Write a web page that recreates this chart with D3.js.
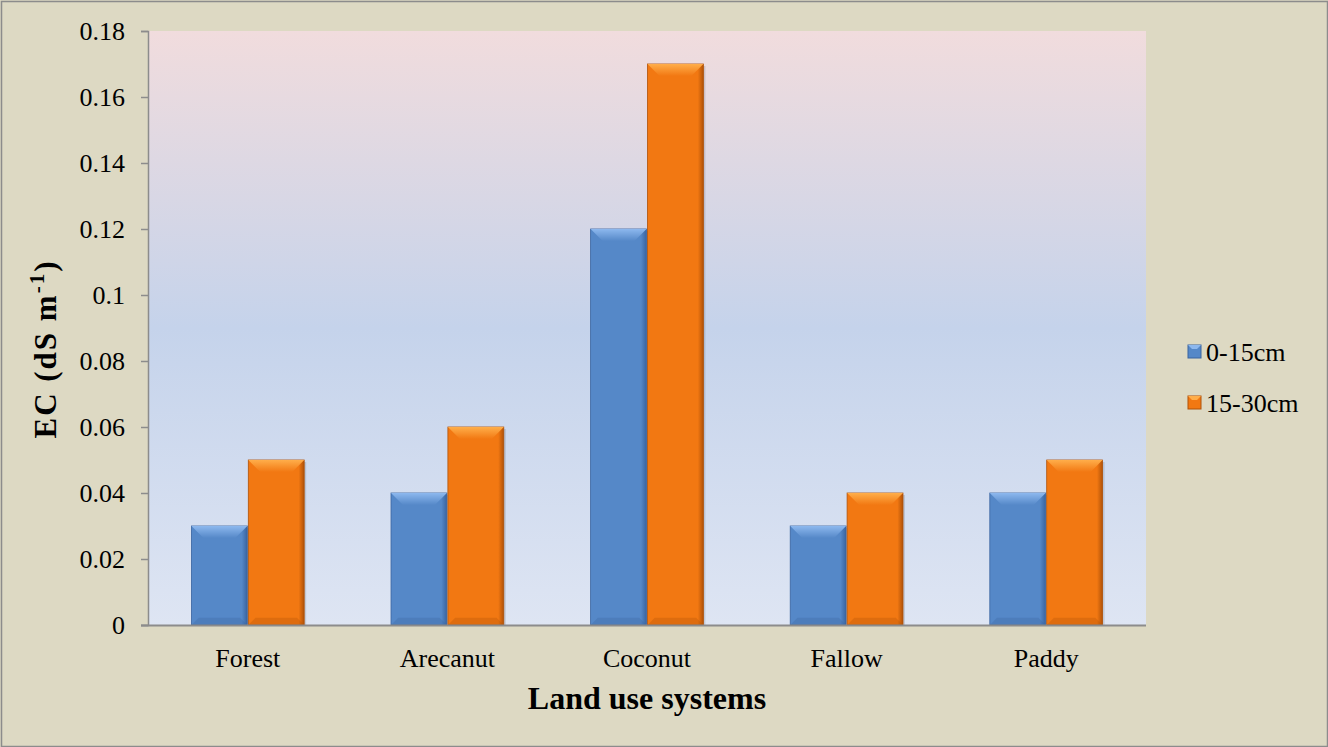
<!DOCTYPE html>
<html><head><meta charset="utf-8">
<script src="https://cdn.jsdelivr.net/npm/d3@7"></script>
<style>html,body{margin:0;padding:0;background:#DDD9C3;}svg{display:block;}</style>
</head><body>
<svg id="c" width="1328" height="747"></svg>
<script>
const categories = ["Forest","Arecanut","Coconut","Fallow","Paddy"];
const seriesNames = ["0-15cm","15-30cm"];
const depth0to15 = [0.03,0.04,0.12,0.03,0.04];
const depth15to30 = [0.05,0.06,0.17,0.04,0.05];
const yTicks = [0,0.02,0.04,0.06,0.08,0.1,0.12,0.14,0.16,0.18];
const yTickLabels = ["0","0.02","0.04","0.06","0.08","0.1","0.12","0.14","0.16","0.18"];

const svg = d3.select("#c");
const W=1328,H=747;
const font = "'Liberation Serif','Times New Roman',serif";
const L=148,R=1146,T=31,B=625;

const defs = svg.append("defs");
const bg = defs.append("linearGradient").attr("id","plotbg").attr("x1",0).attr("y1",0).attr("x2",0).attr("y2",1);
bg.append("stop").attr("offset","0%").attr("stop-color","#F1DCDD");
bg.append("stop").attr("offset","50%").attr("stop-color","#C5D3EB");
bg.append("stop").attr("offset","100%").attr("stop-color","#DEE5F3");

const colors = {"0-15cm":{base:"#5588C8",light:"#8DB8EE",dark:"#3A64A0"},"15-30cm":{base:"#F27812",light:"#FFAE4A",dark:"#B05208"}};
seriesNames.forEach((s,i)=>{
  const c=colors[s];
  const g=defs.append("linearGradient").attr("id","hg"+i).attr("x1",0).attr("y1",0).attr("x2",1).attr("y2",0);
  g.append("stop").attr("offset","0%").attr("stop-color",c.base);
  g.append("stop").attr("offset","90%").attr("stop-color",c.base);
  g.append("stop").attr("offset","100%").attr("stop-color",c.dark);
  const tg=defs.append("linearGradient").attr("id","tg"+i).attr("x1",0).attr("y1",0).attr("x2",0).attr("y2",1);
  tg.append("stop").attr("offset","0%").attr("stop-color",c.light);
  tg.append("stop").attr("offset","100%").attr("stop-color",c.base);
});

svg.append("rect").attr("x",1.5).attr("y",1.5).attr("width",W-2).attr("height",H-2)
  .attr("fill","#DDD9C3").attr("stroke","#8C8C8C").attr("stroke-width",1.5);

svg.append("rect").attr("x",L).attr("y",T).attr("width",R-L).attr("height",B-T).attr("fill","url(#plotbg)");

const y = d3.scaleLinear().domain([0,0.18]).range([B,T]);
const x0 = d3.scaleBand().domain(categories).range([L,R]).padding(0);
const x1 = d3.scaleBand().domain(seriesNames).range([0.215*x0.bandwidth(),0.785*x0.bandwidth()]).padding(0);

const yAxis = d3.axisLeft(y).tickValues(yTicks).tickFormat((d,i)=>yTickLabels[i]).tickSize(7).tickPadding(16);
const ga = svg.append("g").attr("transform",`translate(${L},0)`).call(yAxis);
ga.attr("font-family",font).attr("font-size",26);
ga.select(".domain").attr("stroke","#8C8C8C").attr("stroke-width",1.5);
ga.selectAll(".tick line").attr("stroke","#8C8C8C").attr("stroke-width",1.5);
ga.selectAll(".tick text").attr("font-family",font).attr("font-size",26).attr("fill","#000");

const data = categories.map((c,i)=>({cat:c,vals:[depth0to15[i],depth15to30[i]]}));
const groups = svg.append("g").selectAll("g").data(data).join("g")
  .attr("transform",d=>`translate(${x0(d.cat)},0)`);
groups.each(function(d){
  const g=d3.select(this);
  d.vals.forEach((v,i)=>{
    const s=seriesNames[i];
    const bx=x1(s)+0.5, bw=x1.bandwidth()-1, by=y(v), bh=B-y(v);
    const bev=Math.min(12,bw/4);
    g.append("rect").attr("x",bx+2).attr("y",by+2).attr("width",bw).attr("height",bh-2).attr("fill","rgba(0,0,0,0.12)");
    g.append("rect").attr("x",bx).attr("y",by).attr("width",bw).attr("height",bh).attr("fill","url(#hg"+i+")")
      .attr("stroke",colors[s].dark).attr("stroke-width",0.8);
    g.append("path").attr("d",`M${bx},${by}L${bx+bw},${by}L${bx+bw-bev},${by+bev}L${bx+bev},${by+bev}Z`)
      .attr("fill","url(#tg"+i+")");
    g.append("path").attr("d",`M${bx},${B}L${bx+bev*0.6},${B-bev*0.6}L${bx+bw-bev*0.6},${B-bev*0.6}L${bx+bw},${B}Z`)
      .attr("fill",colors[s].dark).attr("opacity",0.3);
  });
});

const xAxis = d3.axisBottom(x0).tickSize(0).tickPadding(24);
const gx = svg.append("g").attr("transform",`translate(0,${B})`).call(xAxis);
gx.attr("font-family",font).attr("font-size",26);
gx.select(".domain").remove();
svg.append("line").attr("x1",L-7).attr("x2",R).attr("y1",B+0.5).attr("y2",B+0.5).attr("stroke","#8C8C8C").attr("stroke-width",2);
gx.selectAll(".tick text").attr("font-family",font).attr("font-size",26).attr("fill","#000");

svg.append("text").attr("x",(L+R)/2).attr("y",709).attr("text-anchor","middle")
  .attr("font-family",font).attr("font-size",32).attr("font-weight","bold").text("Land use systems");
const yt = svg.append("text").attr("transform",`translate(56,349) rotate(-90)`).attr("text-anchor","middle")
  .attr("font-family",font).attr("font-size",31).attr("font-weight","bold").attr("letter-spacing",2);
yt.append("tspan").text("EC (dS m");
yt.append("tspan").attr("font-size",21).attr("dy",-12).text("-1");
yt.append("tspan").attr("dy",12).text(")");

const lg = svg.append("g").selectAll("g").data(seriesNames).join("g")
  .attr("transform",(d,i)=>`translate(1188,${345+i*51})`);
lg.append("rect").attr("width",13).attr("height",13).attr("fill",(d,i)=>colors[d].base).attr("stroke",(d)=>colors[d].dark).attr("stroke-width",1);
lg.append("path").attr("d","M0,0L13,0L9,4L4,4Z").attr("fill",d=>colors[d].light);
lg.append("text").attr("x",18).attr("y",16).attr("font-family",font).attr("font-size",26).text(d=>d);
</script>
</body></html>
